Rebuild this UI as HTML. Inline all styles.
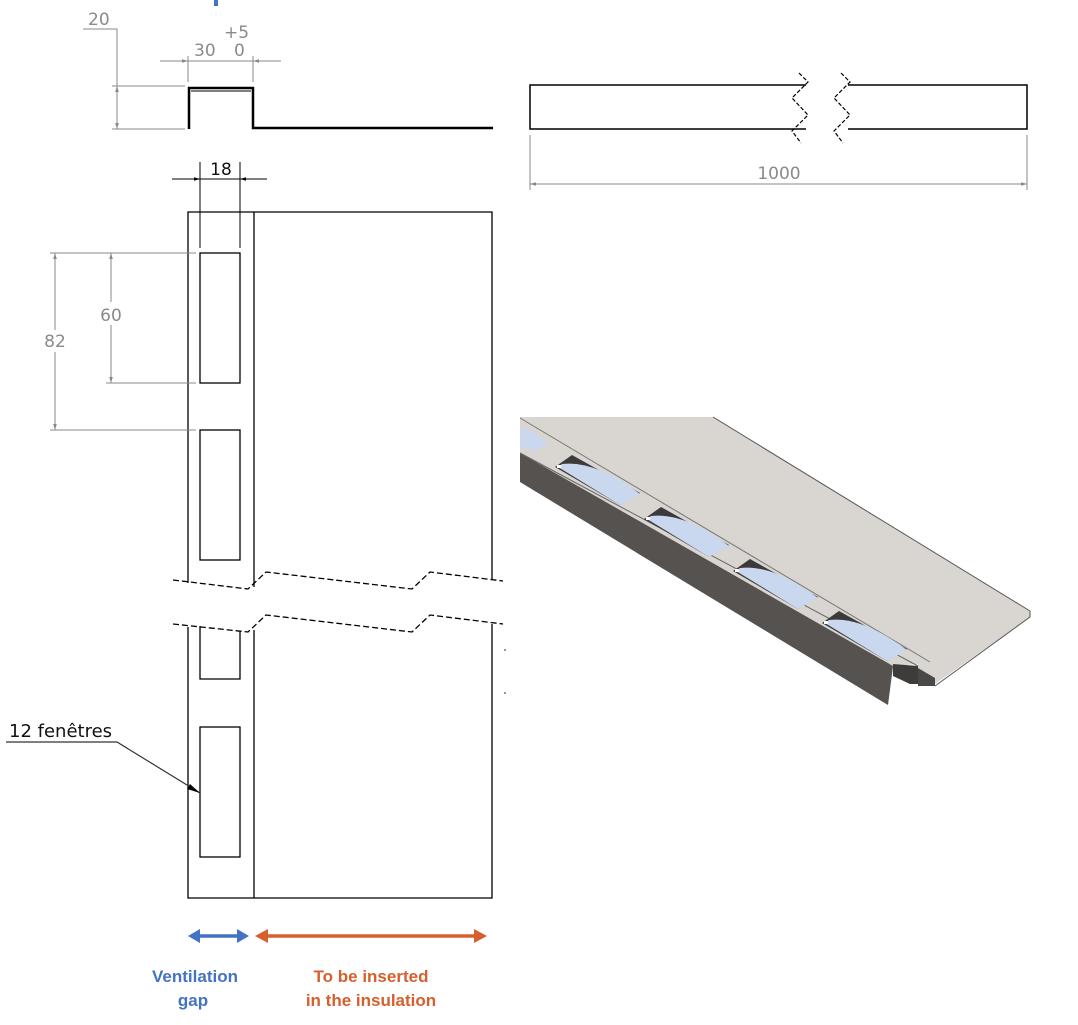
<!DOCTYPE html>
<html><head><meta charset="utf-8"><style>
html,body{margin:0;padding:0;background:#fff;}
svg{display:block;}
.dim{font-family:"DejaVu Sans","Liberation Sans",sans-serif;font-size:17px;fill:#8a8a8a;}
</style></head><body>
<svg width="1078" height="1025" viewBox="0 0 1078 1025" xmlns="http://www.w3.org/2000/svg">
<defs>
<marker id="ga" viewBox="0 0 10 10" refX="10" refY="5" markerWidth="12" markerHeight="6" orient="auto-start-reverse" markerUnits="userSpaceOnUse"><path d="M0,2 L10,5 L0,8 z" fill="#888"/></marker>
<marker id="ka" viewBox="0 0 10 10" refX="10" refY="5" markerWidth="12" markerHeight="6" orient="auto-start-reverse" markerUnits="userSpaceOnUse"><path d="M0,2 L10,5 L0,8 z" fill="#000"/></marker>
</defs>
<rect x="214" y="0" width="4" height="6" fill="#4472c4"/>

<!-- top profile -->
<g fill="none" stroke="#000" stroke-width="2.5">
<path d="M189,129 V88 H253 V128 H493"/>
</g>
<line x1="191" y1="91" x2="251" y2="91" stroke="#000" stroke-width="1"/>
<g stroke="#888" stroke-width="1" fill="none">
<path d="M83,29 H117 V129"/>
<line x1="112" y1="86" x2="185" y2="86"/>
<line x1="112" y1="129" x2="185" y2="129"/>
<line x1="117" y1="95" x2="117" y2="86" marker-end="url(#ga)"/>
<line x1="117" y1="120" x2="117" y2="129" marker-end="url(#ga)"/>
<line x1="188" y1="56" x2="188" y2="82"/>
<line x1="253" y1="56" x2="253" y2="82"/>
<line x1="160" y1="61" x2="188" y2="61" marker-end="url(#ga)"/>
<line x1="281" y1="61" x2="253" y2="61" marker-end="url(#ga)"/>
<line x1="188" y1="61" x2="253" y2="61"/>
</g>
<text class="dim" x="88" y="25">20</text>
<text class="dim" x="194" y="56">30</text>
<text class="dim" x="224" y="38">+5</text>
<text class="dim" x="234" y="56">0</text>

<!-- right side view -->
<g fill="none" stroke="#000" stroke-width="1.5">
<path d="M806,85 H530 V129 H806"/>
<path d="M848,85 H1027 V129 H848"/>
</g>
<g fill="none" stroke="#000" stroke-width="1.2" stroke-dasharray="4,2">
<path d="M799,73 L808,82 L792,98 L808,115 L792,131 L801,143"/>
<path d="M841,73 L850,82 L834,98 L850,115 L834,131 L843,143"/>
</g>
<g stroke="#888" stroke-width="1" fill="none">
<line x1="530" y1="135" x2="530" y2="190"/>
<line x1="1027" y1="135" x2="1027" y2="190"/>
<line x1="545" y1="184" x2="530" y2="184" marker-end="url(#ga)"/>
<line x1="1012" y1="184" x2="1027" y2="184" marker-end="url(#ga)"/>
<line x1="530" y1="184" x2="1027" y2="184"/>
</g>
<text class="dim" x="779" y="179" text-anchor="middle">1000</text>

<!-- 18 dim -->
<g stroke="#000" stroke-width="1" fill="none">
<line x1="200" y1="162" x2="200" y2="248"/>
<line x1="240" y1="162" x2="240" y2="248"/>
<line x1="172" y1="179" x2="200" y2="179" marker-end="url(#ka)"/>
<line x1="267" y1="179" x2="240" y2="179" marker-end="url(#ka)"/>
<line x1="200" y1="179" x2="240" y2="179"/>
</g>
<text x="221" y="175" text-anchor="middle" style="font-family:'DejaVu Sans',sans-serif;font-size:17px;fill:#111">18</text>

<!-- main panel upper -->
<g fill="none" stroke="#000" stroke-width="1.3">
<path d="M188,583 V212 H492 V580"/>
<line x1="254" y1="212" x2="254" y2="587"/>
<rect x="200" y="253" width="40" height="130"/>
<rect x="200" y="430" width="40" height="130"/>
<path d="M188,627 V898 H492 V624"/>
<line x1="254" y1="630" x2="254" y2="898"/>
<path d="M200,626 V679 H240 V631"/>
<rect x="200" y="727" width="40" height="130"/>
</g>
<g fill="none" stroke="#000" stroke-width="1.3" stroke-dasharray="6,3">
<path d="M173,580 L248,589 L266,572 L412,589 L430,572 L503,581"/>
<path d="M173,624 L248,632 L266,615 L412,632 L430,615 L503,624"/>
</g>
<circle cx="505" cy="650" r="1" fill="#777"/>
<circle cx="505" cy="693" r="1" fill="#777"/>

<!-- 82 / 60 dims -->
<g stroke="#888" stroke-width="1" fill="none">
<line x1="50" y1="253" x2="196" y2="253"/>
<line x1="50" y1="430" x2="196" y2="430"/>
<line x1="106" y1="383" x2="196" y2="383"/>
<line x1="55" y1="270" x2="55" y2="253" marker-end="url(#ga)"/>
<line x1="55" y1="413" x2="55" y2="430" marker-end="url(#ga)"/>
<line x1="55" y1="253" x2="55" y2="330"/><line x1="55" y1="352" x2="55" y2="430"/>
<line x1="111" y1="270" x2="111" y2="253" marker-end="url(#ga)"/>
<line x1="111" y1="366" x2="111" y2="383" marker-end="url(#ga)"/>
<line x1="111" y1="253" x2="111" y2="302"/><line x1="111" y1="325" x2="111" y2="383"/>
</g>
<text class="dim" x="55" y="347" text-anchor="middle">82</text>
<text class="dim" x="111" y="321" text-anchor="middle">60</text>

<!-- leader -->
<text x="9" y="737" style="font-family:'DejaVu Sans',sans-serif;font-size:18px;fill:#111">12 fenêtres</text>
<path d="M6,742 H117 L200,793" fill="none" stroke="#333" stroke-width="1.2"/>
<path d="M200,793 L187,789 L190,784 z" fill="#000"/>

<!-- arrows -->
<g stroke="#4472c4" stroke-width="3.5"><line x1="196" y1="936" x2="241" y2="936"/></g>
<path d="M188,936 L200,929 L200,943 z M249,936 L237,929 L237,943 z" fill="#4472c4"/>
<g stroke="#d65f2e" stroke-width="3.5"><line x1="263" y1="936" x2="479" y2="936"/></g>
<path d="M255,936 L268,929 L268,943 z M487,936 L474,929 L474,943 z" fill="#d65f2e"/>
<g style="font-family:'Liberation Sans',sans-serif;font-size:17px;font-weight:bold" text-anchor="middle">
<text x="195" y="982" fill="#4472c4">Ventilation</text>
<text x="193" y="1006" fill="#4472c4">gap</text>
<text x="371" y="982" fill="#d65f2e">To be inserted</text>
<text x="371" y="1006" fill="#d65f2e">in the insulation</text>
</g>

<!-- 3D view -->
<g>
<polygon points="520,417 713,417 1030,611 1030,617 935,684 918,684 918,664 893,666 888,705 520,482" fill="#d9d5d1"/>
<polygon points="520,453 893,666 888,705 520,482" fill="#555250"/>
<polygon points="893,664 918,666 918,684 910,684 893,676" fill="#3e3c3a"/>
<polygon points="918,668 935,678 935,686 918,686" fill="#4a4846"/>
<polyline points="713,417 1030,611 1030,617 935,686" fill="none" stroke="#555" stroke-width="1"/>
<line x1="520" y1="418" x2="930" y2="662" stroke="#777" stroke-width="1"/>
<line x1="520" y1="453" x2="918" y2="666" stroke="#666" stroke-width="1"/>
<g id="w">
<polygon points="555,467 572,455 640,493 620,505" fill="#3c3a3a"/>
<path d="M558,467 L562,464 Q595,460 640,494 L620,505 z" fill="#c9d8ee"/>
<rect x="557" y="465" width="4" height="3" fill="#fff"/>
</g>
<use href="#w" transform="translate(89,52)"/>
<use href="#w" transform="translate(178,104)"/>
<use href="#w" transform="translate(267,156)"/>
<polygon points="520,427 530,430 549,443 535,451 520,446" fill="#c9d8ee"/>
</g>
</svg>
</body></html>
